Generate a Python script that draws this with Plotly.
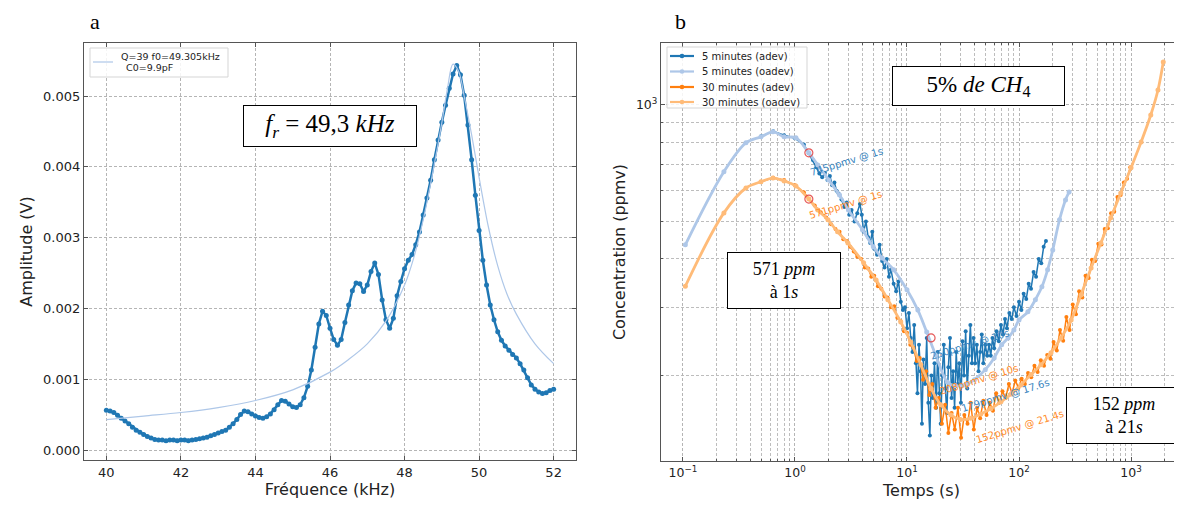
import plotly.graph_objects as go
import numpy as np

# page is rendered with an 8px body margin: figure size reduced and all
# page-pixel positions shifted by 8px.
FW, FH = 1174, 506
OFF = 8


def X(px):
    return (px - OFF) / FW


def Y(py):
    return 1 - (py - OFF) / FH


# ---------------- Panel a data ----------------
freq_khz = [40.0, 40.1, 40.2, 40.3, 40.4, 40.5, 40.6, 40.7, 40.8, 40.9,
            41.0, 41.1, 41.2, 41.3, 41.4, 41.5, 41.6, 41.7, 41.8, 41.9,
            42.0, 42.1, 42.2, 42.3, 42.4, 42.5, 42.6, 42.7, 42.8, 42.9,
            43.0, 43.1, 43.2, 43.3, 43.4, 43.5, 43.6, 43.7, 43.8, 43.9,
            44.0, 44.1, 44.2, 44.3, 44.4, 44.5, 44.6, 44.7, 44.8, 44.9,
            45.0, 45.1, 45.2, 45.3, 45.4, 45.5, 45.6, 45.7, 45.8, 45.9,
            46.0, 46.1, 46.2, 46.3, 46.4, 46.5, 46.6, 46.7, 46.8, 46.9,
            47.0, 47.1, 47.2, 47.3, 47.4, 47.5, 47.6, 47.7, 47.8, 47.9,
            48.0, 48.1, 48.2, 48.3, 48.4, 48.5, 48.6, 48.7, 48.8, 48.9,
            49.0, 49.1, 49.2, 49.3, 49.4, 49.5, 49.6, 49.7, 49.8, 49.9,
            50.0, 50.1, 50.2, 50.3, 50.4, 50.5, 50.6, 50.7, 50.8, 50.9,
            51.0, 51.1, 51.2, 51.3, 51.4, 51.5, 51.6, 51.7, 51.8, 51.9,
            52.0]
amp_mV = [0.56, 0.55, 0.53, 0.49, 0.45, 0.41, 0.37, 0.32, 0.28, 0.25,
          0.22, 0.19, 0.17, 0.15, 0.14, 0.14, 0.13, 0.14, 0.14, 0.13,
          0.14, 0.14, 0.13, 0.14, 0.15, 0.16, 0.17, 0.18, 0.20, 0.22,
          0.24, 0.26, 0.28, 0.32, 0.37, 0.43, 0.50, 0.55, 0.54, 0.51,
          0.48, 0.46, 0.45, 0.47, 0.51, 0.57, 0.64, 0.70, 0.69, 0.65,
          0.61, 0.60, 0.64, 0.74, 0.90, 1.13, 1.45, 1.78, 1.96, 1.90,
          1.72, 1.56, 1.48, 1.56, 1.80, 2.05, 2.25, 2.36, 2.35, 2.24,
          2.33, 2.52, 2.64, 2.48, 2.12, 1.84, 1.72, 1.86, 2.18, 2.38,
          2.56, 2.68, 2.76, 2.90, 3.08, 3.32, 3.56, 3.81, 4.10, 4.38,
          4.63, 4.87, 5.11, 5.31, 5.43, 5.30, 5.01, 4.59, 4.10, 3.60,
          3.10, 2.68, 2.33, 2.05, 1.84, 1.67, 1.55, 1.47, 1.41, 1.35,
          1.30, 1.22, 1.13, 1.02, 0.92, 0.86, 0.82, 0.80, 0.81, 0.84,
          0.86]
fit_f = [40, 41, 42, 43, 44, 45, 46, 46.5, 47, 47.5, 48, 48.25, 48.5, 48.75,
         49, 49.15, 49.3, 49.45, 49.6, 49.8, 50, 50.25, 50.5, 50.75, 51, 51.5, 52]
fit_mV = [0.43, 0.48, 0.53, 0.60, 0.70, 0.85, 1.10, 1.28, 1.50, 1.82, 2.33, 2.72,
          3.25, 3.90, 4.62, 5.10, 5.45, 5.35, 5.00, 4.45, 3.85, 3.15, 2.60, 2.20,
          1.92, 1.50, 1.22]
fit_label_lines = ["Q=39 f0=49.305kHz", "C0=9.9pF"]

# ---------------- Panel b data ----------------
t_adev5 = [0.5, 0.64, 0.8, 1.0, 1.2, 1.33, 1.45, 1.55, 1.65, 1.75, 1.85, 1.95, 2.05,
           2.15, 2.25, 2.35, 2.45, 2.6, 2.75, 2.9, 3.05, 3.2, 3.4, 3.6, 3.8, 3.95,
           4.1, 4.3, 4.5, 4.7, 4.9, 5.1, 5.4, 5.7, 6.0, 6.3, 6.6, 6.9, 7.2, 7.6,
           8.0, 8.4, 8.8, 9.2, 9.6, 10.0, 10.4, 10.8, 11.2, 11.6, 12.0, 12.4, 12.8,
           13.2, 13.6, 14.0, 14.5, 15.0, 15.5, 16.0, 16.5, 17.0, 17.6, 18.2, 18.8,
           19.4, 20.0, 20.6, 21.3, 22.0, 22.7, 23.4, 24.2, 25.0, 25.8, 26.6, 27.5,
           28.4, 29.3, 30.3, 31.3, 32.3, 33.4, 34.5, 35.6, 36.8, 38.0, 39.3, 40.6,
           42, 43.5, 45, 46.5, 48, 50, 52, 54, 56, 58, 60, 63, 66, 69, 72, 75, 78,
           82, 86, 90, 95, 100, 105, 110, 116, 122, 128, 135, 142, 150, 158, 166, 174]
c_adev5 = [830, 855, 835, 820, 790, 750, 720, 690, 665, 650, 668, 640, 655,
           620, 630, 600, 590, 570, 545, 560, 520, 535, 500, 525, 555, 520,
           470, 500, 455, 440, 470, 425, 410, 435, 395, 380, 400, 360, 375, 345,
           330, 350, 310, 295, 300, 265, 290, 250, 230, 270, 215, 180, 240,
           205, 150, 220, 190, 250, 170, 140, 200, 175, 215, 165, 230,
           180, 150, 200, 240, 185, 160, 210, 250, 175, 205, 165, 230,
           190, 215, 170, 245, 200, 260, 185, 225, 270, 215, 250, 215,
           240, 205, 230, 255, 215, 240, 225, 240, 225, 250, 235, 260, 245, 270, 255, 280, 265,
           290, 280, 300, 285, 310, 295, 325, 315, 345, 335, 370, 360, 400, 390, 430, 445]
t_oadev5 = [0.105, 0.232, 0.365, 0.497, 0.636, 0.80, 1.02, 1.33, 1.6, 2.0, 2.5, 3.0,
            4.0, 5.0, 6.0, 7.6, 10, 12.5, 15, 18, 23, 27, 33, 40, 50, 60, 70, 80,
            90, 100, 120, 140, 160, 180, 200, 230, 260, 280]
c_oadev5 = [435, 672, 798, 827, 852, 827, 822, 752, 700, 640, 585, 535,
            476, 430, 402, 375, 333, 295, 259, 226, 192, 188, 189, 195, 207, 222, 240, 250,
            262, 278, 292, 314, 339, 375, 422, 505, 568, 596]
t_adev30 = [0.5, 0.64, 0.8, 1.0, 1.2, 1.33, 1.5, 1.7, 1.9, 2.1,
            2.3, 2.5, 2.7, 2.9, 3.1, 3.35, 3.6, 3.9, 4.2, 4.5,
            4.8, 5.1, 5.5, 5.9, 6.3, 6.7, 7.2, 7.7, 8.2, 8.8,
            9.4, 10.0, 10.7, 11.4, 12.2, 13.0, 13.9, 14.8, 15.8, 16.8,
            18.0, 19.2, 20.5, 21.9, 23.4, 25.0, 26.7, 28.5, 30.4, 32.5,
            34.7, 37.0, 39.5, 42.2, 45.0, 48.0, 51.3, 54.8, 58.5, 62.5,
            66.7, 71.2, 76.0, 81.2, 86.7, 92.6, 98.9, 105.6, 112.8, 120.4,
            128.6, 137.3, 146.6, 156.6, 167.2, 178.5, 190.6, 203.5, 217.4, 232.1,
            247.9, 264.7, 282.7, 301.8, 322.3, 344.2, 367.5, 392.5, 419.1, 447.5,
            477.9, 510.3, 545, 582, 621, 663, 708, 756, 808, 863,
            921, 984]
c_adev30 = [633, 648, 640, 620, 595, 572, 550, 528, 512, 492,
            478, 470, 450, 445, 430, 418, 405, 400, 380, 378,
            360, 362, 340, 335, 320, 318, 300, 302, 282, 276,
            260, 258, 240, 236, 218, 222, 195, 205, 178, 190,
            165, 175, 150, 168, 142, 160, 145, 165, 138, 158,
            150, 170, 145, 165, 155, 172, 158, 170, 162, 180,
            170, 182, 175, 190, 180, 194, 186, 196, 190, 203,
            198, 212, 204, 219, 212, 226, 221, 244, 232, 262,
            246, 283, 262, 305, 288, 330, 318, 362, 357, 398,
            395, 438, 436, 478, 480, 525, 530, 578, 585, 630,
            645, 690]
t_oadev30 = [0.105, 0.232, 0.365, 0.497, 0.636, 0.80, 1.02, 1.33, 1.6, 1.97, 2.4, 2.97,
             4.1, 5.3, 6.75, 8.8, 10.8, 13.3, 16.4, 20, 24.7, 30, 37, 45.6, 56, 69, 85,
             104, 128, 157, 193, 237, 292, 357, 440, 538, 660, 810, 1000, 1230, 1500,
             1740, 1940]
c_oadev30 = [340, 526, 610, 633, 647, 636, 617, 571, 535, 505, 470, 440,
             391, 353, 314, 275, 244, 213, 185, 168, 158, 154, 155, 159, 164, 171, 179,
             189, 201, 213, 229, 250, 278, 323, 379, 440, 511, 592, 688, 802, 942,
             1093, 1291]
marked_t = [1.33, 1.33, 16.4]
marked_c = [752, 571, 250]

series_names = ["5 minutes (adev)", "5 minutes (oadev)",
                "30 minutes (adev)", "30 minutes (oadev)"]
series_colors = ["#1f77b4", "#aec7e8", "#ff7f0e", "#ffbb78"]

# ---------------- figure ----------------
fig = go.Figure()
amp = [v / 1000 for v in amp_mV]
fit = [v / 1000 for v in fit_mV]

fig.add_trace(go.Scatter(x=freq_khz, y=amp, mode="lines+markers", name="mesure",
                         line=dict(color="#1f77b4", width=2.5),
                         marker=dict(size=5, color="#1f77b4"),
                         showlegend=False, xaxis="x", yaxis="y"))
fig.add_trace(go.Scatter(x=fit_f, y=fit, mode="lines", name=" ".join(fit_label_lines),
                         line=dict(color="#aec7e8", width=1.2, shape="spline"),
                         showlegend=False, xaxis="x", yaxis="y"))

styles = [(1.5, 4, "linear"), (2.8, 5, "spline"), (1.5, 4, "linear"), (2.8, 5, "spline")]
datasets = [(t_adev5, c_adev5), (t_oadev5, c_oadev5),
            (t_adev30, c_adev30), (t_oadev30, c_oadev30)]
for (tt, cc), name, col, (lw, ms, shp) in zip(datasets, series_names, series_colors, styles):
    fig.add_trace(go.Scatter(x=tt, y=cc, mode="lines+markers", name=name,
                             line=dict(color=col, width=lw, shape=shp),
                             marker=dict(size=ms, color=col),
                             showlegend=False, xaxis="x2", yaxis="y2"))
fig.add_trace(go.Scatter(x=marked_t, y=marked_c, mode="markers",
                         marker=dict(symbol="circle-open", size=8,
                                     color="rgba(225,60,60,0.85)", line=dict(width=1.2)),
                         showlegend=False, xaxis="x2", yaxis="y2"))

axis_common = dict(showline=True, linecolor="#555555", linewidth=1.2, mirror="ticks",
                   ticks="inside", ticklen=4, tickcolor="#555555", tickwidth=1,
                   showgrid=True, gridcolor="#b5b5b5", gridwidth=0.8, griddash="3px,2px",
                   zeroline=False)

minor_x = [0.2, 0.3, 0.4, 0.5, 0.6, 0.7, 0.8, 0.9, 2, 3, 4, 5, 6, 7, 8, 9,
           20, 30, 40, 50, 60, 70, 80, 90, 200, 300, 400, 500, 600, 700, 800, 900, 2000]
minor_y = [200, 300, 400, 500, 600, 700, 800, 900]
minor_common = dict(ticks="inside", ticklen=2, tickcolor="#555555", showgrid=True,
                    gridcolor="#bdbdbd", gridwidth=0.7, griddash="3px,2px")
tick_a = dict(size=13, color="#222")
tick_b = dict(size=12.5, color="#222")
title_font = dict(size=16, color="#222")

fig.update_layout(
    width=FW, height=FH, margin=dict(l=0, r=0, t=0, b=0),
    paper_bgcolor="white", plot_bgcolor="white",
    font=dict(family="DejaVu Sans", color="#222"),
    showlegend=False,
    xaxis=dict(axis_common, domain=[X(84), X(576)], range=[39.4, 52.6],
               tickvals=[40, 42, 44, 46, 48, 50, 52], anchor="y", tickfont=tick_a,
               title=dict(text="Fréquence (kHz)", font=title_font, standoff=5)),
    yaxis=dict(axis_common, domain=[Y(460), Y(43)], range=[-0.000141, 0.005749],
               tickvals=[0, 0.001, 0.002, 0.003, 0.004, 0.005], tickformat=".3f",
               anchor="x", tickfont=tick_a,
               title=dict(text="Amplitude (V)", font=title_font, standoff=6)),
    xaxis2=dict(axis_common, type="log", domain=[X(661), 1.0], range=[-1.196, 3.455],
                tickvals=[0.1, 1, 10, 100, 1000],
                ticktext=["10<sup>−1</sup>", "10<sup>0</sup>", "10<sup>1</sup>",
                          "10<sup>2</sup>", "10<sup>3</sup>"], tickfont=tick_b,
                minor=dict(minor_common, tickvals=minor_x), anchor="y2",
                title=dict(text="Temps (s)", font=title_font, standoff=5)),
    yaxis2=dict(axis_common, type="log", domain=[Y(461), Y(43)], range=[2.080, 3.160],
                tickvals=[1000], ticktext=["10<sup>3</sup>"], tickfont=tick_b,
                minor=dict(minor_common, tickvals=minor_y), anchor="x2",
                title=dict(text="Concentration (ppmv)", font=title_font, standoff=6)),
)

shapes = []
ann = []
legend_text = dict(xref="paper", yref="paper", showarrow=False, xanchor="left",
                   yanchor="middle", font=dict(size=10, color="#222", family="DejaVu Sans"))

# legend of panel a (drawn by hand, matplotlib-like frame)
shapes.append(dict(type="rect", xref="paper", yref="paper", x0=X(90), x1=X(228),
                   y0=Y(77), y1=Y(48), line=dict(color="#d5d5d5", width=1),
                   fillcolor="rgba(255,255,255,0.85)"))
shapes.append(dict(type="line", xref="paper", yref="paper", x0=X(93), x1=X(113),
                   y0=Y(62), y1=Y(62), line=dict(color="#aec7e8", width=1.2)))
ann.append(dict(legend_text, x=X(119), y=Y(56), text=fit_label_lines[0],
                font=dict(size=9.5, color="#222", family="DejaVu Sans")))
ann.append(dict(legend_text, x=X(124), y=Y(67), text=fit_label_lines[1],
                font=dict(size=9.5, color="#222", family="DejaVu Sans")))

# legend of panel b
shapes.append(dict(type="rect", xref="paper", yref="paper", x0=X(667), x1=X(807),
                   y0=Y(108), y1=Y(47), line=dict(color="#d5d5d5", width=1),
                   fillcolor="rgba(255,255,255,0.85)"))
row_y = [56, 71.5, 87, 102]
for name, col, (lw, ms, shp), cy in zip(series_names, series_colors, styles, row_y):
    shapes.append(dict(type="line", xref="paper", yref="paper", x0=X(670), x1=X(694),
                       y0=Y(cy), y1=Y(cy), line=dict(color=col, width=2.2)))
    r = 2.3
    shapes.append(dict(type="circle", xref="paper", yref="paper", x0=X(682 - r),
                       x1=X(682 + r), y0=Y(cy + r), y1=Y(cy - r),
                       fillcolor=col, line=dict(width=0)))
    ann.append(dict(legend_text, x=X(700), y=Y(cy), text=name))

center = dict(xref="paper", yref="paper", showarrow=False, xanchor="center", yanchor="middle")
serif = "Liberation Serif"
ann.append(dict(center, x=X(95), y=Y(22), text="a",
                font=dict(family=serif, size=22, color="black")))
ann.append(dict(center, x=X(680), y=Y(22), text="b",
                font=dict(family=serif, size=22, color="black")))
box = dict(center, bordercolor="black", borderwidth=1, bgcolor="white", borderpad=3)
ann.append(dict(box, x=X(330), y=Y(126), width=166, height=34,
                text="<i>f</i><sub><i>r</i></sub> = 49,3 <i>kHz</i>",
                font=dict(family=serif, size=25, color="black")))
ann.append(dict(box, x=X(978), y=Y(86), width=165, height=32,
                text="5% <i>de CH</i><sub>4</sub>",
                font=dict(family=serif, size=23, color="black")))
ann.append(dict(box, x=X(784), y=Y(280), width=106, height=49,
                text="571 <i>ppm</i><br>à 1<i>s</i>",
                font=dict(family=serif, size=18, color="black")))
ann.append(dict(box, x=X(1124), y=Y(415), width=108, height=49,
                text="152 <i>ppm</i><br>à 21<i>s</i>",
                font=dict(family=serif, size=18, color="black")))

small = [("745ppmv @ 1s", 2.9, 713, "#3a86c0"),
         ("571ppmv @ 1s", 2.85, 552, "#ff8c2a"),
         ("250ppmv @ 10s", 36.5, 240, "#3a86c0"),
         ("208ppmv @ 10s", 44, 195, "#ff8c2a"),
         ("179ppmv @ 17.6s", 75, 177, "#3a86c0"),
         ("152ppmv @ 21.4s", 102, 148, "#ff8c2a")]
for txt, tx, cy, col in small:
    ann.append(dict(x=np.log10(tx), y=np.log10(cy), xref="x2", yref="y2", text=txt,
                    showarrow=False, textangle=-17, xanchor="center", yanchor="middle",
                    font=dict(size=10, color=col, family="DejaVu Sans")))

fig.update_layout(shapes=shapes, annotations=ann)
fig.write_html("out.html")
